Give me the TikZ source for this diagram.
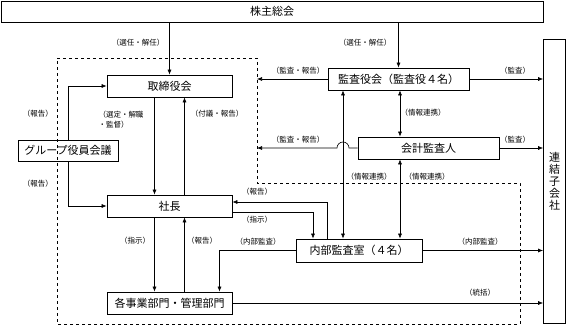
\documentclass[tikz,border=0pt]{standalone}
\usepackage{fontspec}
\setmainfont{Noto Sans CJK JP}
\usetikzlibrary{arrows.meta,positioning}

\begin{document}
\begin{tikzpicture}[
    x=1pt, y=-1pt,
    unit/.style={rectangle, draw, line width=0.7pt,
                 minimum width=125pt, minimum height=22pt,
                 inner sep=0pt, align=center,
                 font=\fontsize{11}{12}\selectfont},
    note/.style={inner sep=1pt, align=left,
                 font=\fontsize{7.5}{10}\selectfont},
    flow/.style={-{Latex[length=5pt,width=4pt]}, line width=0.6pt},
    both/.style={{Latex[length=5pt,width=4pt]}-{Latex[length=5pt,width=4pt]}, line width=0.6pt},
    zone/.style={dashed, line width=0.6pt}
]
\useasboundingbox (0,0) rectangle (566,326);

% boxes
\node[unit, minimum width=542pt, minimum height=21pt] (agm) at (272,11.5) {株主総会};
\node[unit, minimum width=22pt, minimum height=284pt] (sub) at (554.5,181) {連\\結\\子\\会\\社};
\node[unit] (board) at (169.5,86) {取締役会};
\node[unit, minimum width=100pt, minimum height=21pt] (group) at (68,150.5) {グループ役員会議};
\node[unit, minimum width=141pt] (kansa) at (398.5,79) {監査役会（監査役４名）};
\node[unit, minimum width=141pt] (audit) at (428.5,148) {会計監査人};
\node[unit] (pres) at (169.5,206) {社長};
\node[unit, minimum width=126pt, minimum height=23pt] (internal) at (359,250.5) {内部監査室（４名）};
\node[unit] (divs) at (169.5,303) {各事業部門・管理部門};

% dashed area of the company
\draw[zone] (57,58) -- (257,58) -- (257,183) -- (520,183) -- (520,324) -- (57,324) -- cycle;
\coordinate (edgeA) at (257,79);
\coordinate (edgeB) at (257,148);

% connectors
\draw[flow] (agm.south -| board.north) -- (board.north);
\draw[flow] (agm.south -| kansa.north) -- (kansa.north);
\draw[flow] ([xshift=-15pt]board.south) -- ([xshift=-15pt]pres.north);
\draw[flow] ([xshift=15pt]pres.north) -- ([xshift=15pt]board.south);
\draw[flow] ([xshift=-15pt]pres.south) -- ([xshift=-15pt]divs.north);
\draw[flow] ([xshift=15pt]divs.north) -- ([xshift=15pt]pres.south);
\draw[flow] (group.north) |- (board.west);
\draw[flow] (group.south) |- (pres.west);
\draw[flow] (kansa.east) -- (kansa.east -| sub.west);
\draw[flow] (audit.east) -- (audit.east -| sub.west);
\draw[flow] (kansa.west) -- (edgeA);
\draw[flow] (audit.west) -- (349,148) arc[start angle=0, end angle=180, radius=6pt] -- (edgeB);
\draw[both] ([xshift=1.5pt]kansa.south) -- ([xshift=1.5pt]kansa.south |- audit.north);
\draw[both] ([xshift=-16pt]internal.north) -- ([xshift=-16pt]internal.north |- kansa.south);
\draw[both] ([xshift=41pt]internal.north) -- ([xshift=41pt]internal.north |- audit.south);
\draw[flow] ([xshift=-32pt]internal.north) |- ([yshift=4pt]pres.east);
\draw[flow] ([yshift=-6pt]pres.east) -| ([xshift=-46pt]internal.north);
\draw[flow] (internal.west) -| ([xshift=50pt]divs.north);
\draw[flow] (internal.east) -- (internal.east -| sub.west);
\draw[flow] (divs.east) -- (divs.east -| sub.west);

% labels
\node[note] (l1) at (138,43) {（選任・解任）};
\node[note] (l2) at (365,43) {（選任・解任）};
\node[note] (l3) at (121,120) {（選定・解職\\・監督）};
\node[note] (l4) at (217,114) {（付議・報告）};
\node[note] (l5) at (38,114) {（報告）};
\node[note] (l6) at (38,184) {（報告）};
\node[note] (l7) at (298,71) {（監査・報告）};
\node[note] (l8) at (298,140) {（監査・報告）};
\node[note] (l9) at (515,71) {（監査）};
\node[note] (l10) at (515,140) {（監査）};
\node[note] (l11) at (423,113) {（情報連携）};
\node[note] (l12) at (369,177) {（情報連携）};
\node[note] (l13) at (427,177) {（情報連携）};
\node[note] (l14) at (257,192) {（報告）};
\node[note] (l15) at (257,220) {（指示）};
\node[note] (l16) at (135,241) {（指示）};
\node[note] (l17) at (202,241) {（報告）};
\node[note] (l18) at (258,242) {（内部監査）};
\node[note] (l19) at (480,242) {（内部監査）};
\node[note] (l20) at (480,293) {（統括）};
\end{tikzpicture}
\end{document}
